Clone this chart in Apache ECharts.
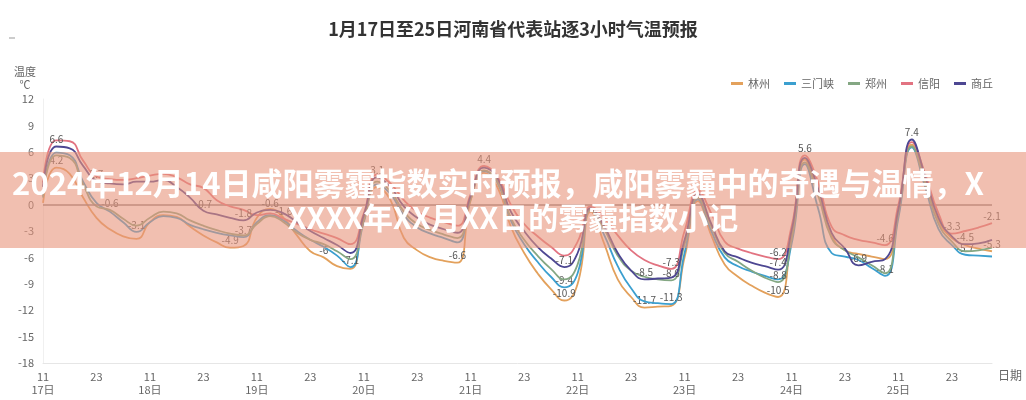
<!DOCTYPE html>
<html>
<head>
<meta charset="utf-8">
<script src="https://cdn.jsdelivr.net/npm/echarts@6/dist/echarts.min.js"></script>
<style>
html,body{margin:0;padding:0;background:#fff;}
#chart{width:1026px;height:400px;}
</style>
</head>
<body>
<div id="chart"></div>
<script>
// ---------- data ----------
const dayLabels = ['17日','18日','19日','20日','21日','22日','23日','24日','25日','26日'];
const hourLabels = ['11','14','17','20','23','02','05','08'];
const seriesNames = ['林州','三门峡','郑州','信阳','商丘'];

const linzhou = [
  0.2, 4.2, 3.5, 0.8, -1.5, -2.8, -3.6, -3.9,
  -2.0, -1.2, -1.4, -2.5, -3.5, -4.3, -4.9, -4.7,
  -1.5, -0.5, -1.5, -3.5, -5.3, -6.0, -7.0, -7.3,
  -1.5, 2.0, 0.5, -3.8, -5.2, -6.0, -6.4, -6.6,
  0.5, 3.6, 2.0, -2.5, -5.5, -7.8, -9.6, -10.9,
  -9.0, -0.8, -4.5, -8.5, -10.5, -11.7, -11.6, -11.5,
  -6.0, 0.4, -3.5, -6.8, -8.2, -9.2, -10.0, -10.5,
  -3.5, 5.1, 1.5, -3.5, -5.2, -5.6, -5.9, -6.2,
  -1.0, 6.8, 3.0, -1.8, -3.8, -4.6, -5.0, -5.3
];
const sanmenxia = [
  1.0, 5.9, 5.6, 2.6, 0.2, -0.8, -2.0, -3.1,
  -2.0, -1.3, -1.5, -2.3, -2.8, -3.2, -3.5, -3.7,
  -2.0, -1.2, -1.8, -3.0, -4.0, -4.8, -5.8, -7.1,
  -2.0, 2.3, 1.2, -1.2, -2.6, -3.3, -3.8, -4.3,
  0.8, 3.8, 2.5, -1.8, -4.5, -6.5, -8.2, -9.4,
  -7.8, -0.6, -3.5, -7.0, -9.5, -11.0, -11.2, -11.3,
  -5.5, 0.6, -3.0, -6.0, -7.0, -7.6, -8.1, -8.5,
  -4.5, 4.6, -0.5, -5.5, -5.9, -6.3, -7.2, -8.1,
  -1.5, 6.5, 2.0, -2.8, -4.6, -5.7, -5.8, -5.9
];
const zhengzhou = [
  0.8, 5.6, 5.3, 2.3, -0.2, -0.6, -1.6, -2.4,
  -1.5, -0.8, -1.0, -1.8, -2.4, -2.9, -3.3, -3.5,
  -2.2, -1.3, -2.0, -3.2, -4.0, -4.5, -5.3, -6.2,
  -1.8, 2.6, 1.5, -0.8, -2.2, -2.9, -3.4, -3.8,
  0.6, 3.9, 2.6, -1.5, -4.0, -5.8, -7.3, -8.5,
  -6.8, -0.5, -2.8, -5.8, -7.5, -8.2, -8.5, -8.6,
  -4.5, 0.8, -2.5, -5.5, -6.5, -7.5, -8.3, -8.8,
  -4.0, 4.8, 1.0, -3.8, -5.2, -6.0, -6.9, -7.8,
  -0.8, 6.6, 2.5, -2.2, -4.2, -5.3, -5.2, -4.9
];
const xinyang = [
  2.5, 7.3, 7.2, 5.0, 3.2, 2.9, 2.8, 3.0,
  3.3, 3.5, 3.1, 2.3, 1.9, 0.5, -0.2, -0.6,
  -1.2, -1.0, -1.6, -2.2, -2.8, -3.3, -3.8, -4.5,
  -1.0, 3.4, 2.4, 0.5, -0.8, -1.5, -2.0, -2.4,
  1.2, 4.4, 3.2, 0.0, -2.2, -3.6, -4.8, -5.8,
  -4.2, -0.2, -1.5, -3.5, -5.2, -6.3, -6.9, -7.3,
  -3.0, 1.6, -1.0, -4.2, -5.0, -5.5, -5.9, -6.2,
  -2.5, 5.6, 2.5, -2.5, -3.5, -4.0, -4.3, -4.6,
  0.0, 7.1, 3.5, -1.0, -3.3, -3.0, -2.6, -2.1
];
const shangqiu = [
  2.0, 6.6, 6.4, 4.4, 2.7, 2.4, 2.3, 2.6,
  2.6, 2.8, 2.0, 0.8, -0.7, -1.1, -1.5, -1.8,
  -0.9, -0.6, -1.0, -2.0, -3.0, -3.8, -4.6, -5.5,
  -1.2, 3.1, 2.0, -0.2, -1.5, -2.3, -2.8, -3.2,
  1.0, 4.2, 3.0, -0.8, -3.0, -4.8, -6.1, -7.1,
  -5.5, -0.4, -2.5, -5.5, -7.5, -8.5, -8.4, -8.3,
  -4.0, 1.2, -2.2, -5.3, -6.0, -6.6, -7.0, -7.4,
  -3.0, 5.3, 1.8, -3.2, -5.0, -6.9, -6.5, -6.2,
  -0.5, 7.4, 3.2, -1.5, -3.6, -4.5, -4.4, -4.0
];

// which points carry a value label
const linzhouLabels = [1, 14, 21, 31, 39, 45, 55, 71];
const sanmenxiaLabels = [7, 15, 23, 39, 47, 63, 69];
const zhengzhouLabels = [5, 47, 55];
const xinyangLabels = [18, 33, 47, 55, 57, 63, 68, 71];
const shangqiuLabels = [1, 4, 12, 15, 17, 25, 39, 45, 55, 61, 65, 69];

const yMin = -18, yMax = 12, yStep = 3;

// categories: day + hour (hours 02-08 belong to the following day)
const categories = [];
for (let d = 0; d < 9; d++) {
  hourLabels.forEach(h => {
    const day = (+h >= 11) ? dayLabels[d] : dayLabels[d + 1];
    categories.push(day + '|' + h);
  });
}

// ---------- chart ----------
const colors = ['#e3a15c', '#3b9fcf', '#84a783', '#e27381', '#4d4792'];
const values = [linzhou, sanmenxia, zhengzhou, xinyang, shangqiu];
const labelIdx = [linzhouLabels, sanmenxiaLabels, zhengzhouLabels, xinyangLabels, shangqiuLabels];
const FONT = '"Noto Sans CJK SC", "Noto Sans", sans-serif';

const series = seriesNames.map((name, k) => ({
  name,
  type: 'line',
  smooth: true,
  symbol: 'circle',
  symbolSize: 0.1,
  showSymbol: true,
  showAllSymbol: true,
  lineStyle: { width: 1.8, color: colors[k] },
  itemStyle: { color: colors[k] },
  data: values[k].map((v, i) => labelIdx[k].includes(i)
    ? { value: v, label: { show: true } }
    : v),
  label: {
    show: false, position: 'top', distance: 2,
    fontSize: 10, color: '#555', fontFamily: FONT
  },
  markLine: k === 0 ? {
    silent: true, symbol: 'none', label: { show: false },
    lineStyle: { color: '#8a8180', width: 1.5, type: 'solid' },
    data: [{ yAxis: 0 }]
  } : undefined,
  z: 2 + k
}));

const chart = echarts.init(document.getElementById('chart'), null, { renderer: 'canvas' });
chart.setOption({
  animation: false,
  color: colors,
  textStyle: { fontFamily: FONT },
  title: {
    text: '1月17日至25日河南省代表站逐3小时气温预报',
    left: 'center', top: 15,
    textStyle: { fontSize: 18, fontWeight: 'bold', color: '#333', fontFamily: FONT }
  },
  legend: {
    data: seriesNames,
    right: 28, top: 73,
    icon: 'rect', itemWidth: 12, itemHeight: 3, itemGap: 14,
    textStyle: { fontSize: 11, color: '#666', fontFamily: FONT }
  },
  grid: { left: 43, right: 34, top: 99, bottom: 37 },
  xAxis: {
    type: 'category',
    data: categories,
    boundaryGap: false,
    name: '日期',
    nameLocation: 'end',
    nameGap: 6,
    nameTextStyle: { color: '#666', fontSize: 12, verticalAlign: 'top', padding: [6, 0, 0, 0] },
    axisLine: { onZero: false, lineStyle: { color: '#e6e6e6' } },
    axisTick: { show: false },
    axisLabel: {
      interval: 3,
      color: '#666', fontSize: 11, lineHeight: 13, margin: 7,
      formatter: (v) => {
        const [day, h] = v.split('|');
        return h === '11' ? h + '\n' + day : h;
      }
    },
    splitLine: { show: false }
  },
  yAxis: {
    type: 'value',
    min: yMin, max: yMax, interval: yStep,
    axisLine: { show: true, lineStyle: { color: '#f0f0f0' } },
    axisTick: { show: false },
    axisLabel: { color: '#666', fontSize: 11, margin: 9 },
    splitLine: { show: false }
  },
  graphic: [
    { type: 'line', shape: { x1: 9, y1: 38, x2: 15, y2: 38 }, style: { stroke: '#999', lineWidth: 1 } },
    { type: 'text', x: 25, y: 72, style: { text: '温度', fill: '#666', font: '11px ' + FONT, textAlign: 'center', textVerticalAlign: 'middle' } },
    { type: 'text', x: 25, y: 85, style: { text: '℃', fill: '#666', font: '11px ' + FONT, textAlign: 'center', textVerticalAlign: 'middle' } },
    { type: 'rect', z: 100, shape: { x: 0, y: 152, width: 1026, height: 96 }, style: { fill: 'rgba(232,148,124,0.6)' } },
    { type: 'text', z: 101, x: 498, y: 183, style: { text: '2024年12月14日咸阳雾霾指数实时预报，咸阳雾霾中的奇遇与温情，X', fill: '#fff', font: 'bold 31px ' + FONT, textAlign: 'center', textVerticalAlign: 'middle' } },
    { type: 'text', z: 101, x: 513, y: 218, style: { text: 'XXXX年XX月XX日的雾霾指数小记', fill: '#fff', font: 'bold 30px ' + FONT, textAlign: 'center', textVerticalAlign: 'middle' } }
  ],
  series
});
</script>
</body>
</html>
